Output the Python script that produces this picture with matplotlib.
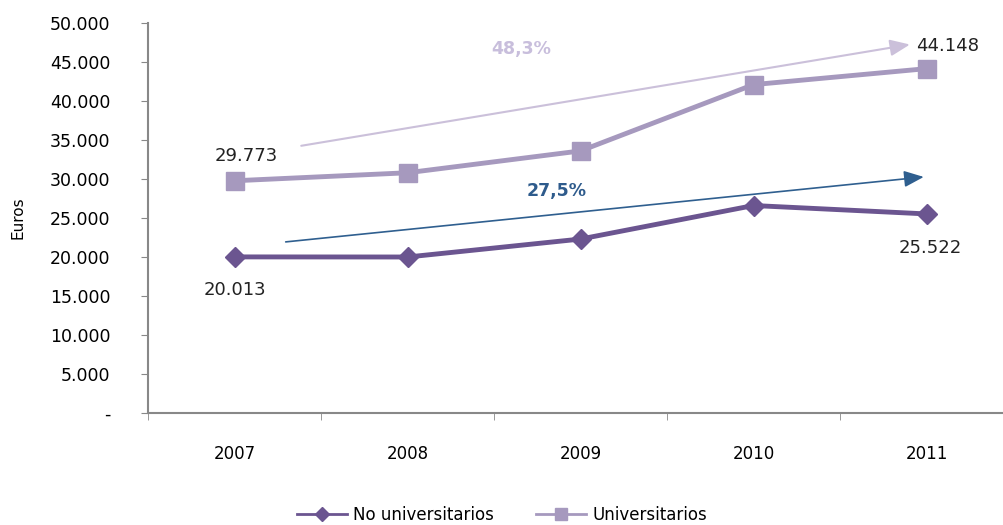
import matplotlib.pyplot as plt
from matplotlib.lines import Line2D
import numpy as np

years = ["2007", "2008", "2009", "2010", "2011"]
no_univ = [20013, 20000, 22300, 26600, 25522]
univ = [29773, 30800, 33600, 42100, 44148]
y_ticks = [0, 5000, 10000, 15000, 20000, 25000, 30000, 35000, 40000, 45000, 50000]

plt.rcParams['font.family'] = ['DejaVu Sans']

c_no = "#6b5590"
c_un = "#a699be"

fig = plt.figure(figsize=(10.04, 5.25), dpi=100)
ax = fig.add_axes([148/1004, 1 - 413/525, 865/1004, 390/525])

x = np.arange(len(years))
ax.plot(x, no_univ, color=c_no, lw=3.5, marker="D", ms=10)
ax.plot(x, univ, color=c_un, lw=3.5, marker="s", ms=13)

ax.set_xlim(-0.5, 4.5)
ax.set_ylim(0, 50000)
ax.set_yticks(y_ticks)
ax.set_yticklabels(["-"] + [f"{v:,}".replace(",", ".") for v in y_ticks[1:]], fontsize=12.5)
ax.set_xticks(x)
ax.set_xticklabels(years, fontsize=12)
ax.set_xticks(np.arange(-0.5, 5, 1), minor=True)
ax.tick_params(axis="x", which="major", length=0, pad=23)
ax.tick_params(axis="x", which="minor", length=5, color="#888888")
ax.tick_params(axis="y", length=5, color="#888888", pad=22)
for s in ["top", "right"]:
    ax.spines[s].set_visible(False)
for s in ["left", "bottom"]:
    ax.spines[s].set_color("#888888")
    ax.spines[s].set_linewidth(1.5)

fig.text(18/1004, 1 - 218/525, "Euros", rotation=90, fontsize=11, ha="center", va="center")

# trend arrows
ax.annotate("", xy=(3.92, 47300), xytext=(0.37, 34200),
            arrowprops=dict(arrowstyle="-|>,head_length=1.2,head_width=0.5", color="#cbc0da", lw=1.5))
ax.annotate("", xy=(4.0, 30300), xytext=(0.28, 21900),
            arrowprops=dict(arrowstyle="-|>,head_length=1.2,head_width=0.5", color="#2f5f8f", lw=1.2))
ax.text(1.66, 46700, "48,3%", color="#c8bedc", fontsize=12.5, fontweight="bold", ha="center", va="center")
ax.text(1.86, 28500, "27,5%", color="#2e5b8c", fontsize=12.5, fontweight="bold", ha="center", va="center")

# data labels
ax.text(0.07, 33000, "29.773", fontsize=13, ha="center", va="center", color="#222222")
ax.text(4.12, 47100, "44.148", fontsize=13, ha="center", va="center", color="#222222")
ax.text(0.0, 15800, "20.013", fontsize=13, ha="center", va="center", color="#222222")
ax.text(4.02, 21200, "25.522", fontsize=13, ha="center", va="center", color="#222222")

handles = [Line2D([], [], color=c_no, lw=2, marker="D", ms=7),
           Line2D([], [], color=c_un, lw=2, marker="s", ms=9)]
fig.legend(handles, ["No universitarios", "Universitarios"], loc="center",
           bbox_to_anchor=(0.5, 1 - 515/525), ncol=2, frameon=False,
           fontsize=12, handlelength=3, columnspacing=2.5, handletextpad=0.4)

fig.savefig("out.png", dpi=100)
